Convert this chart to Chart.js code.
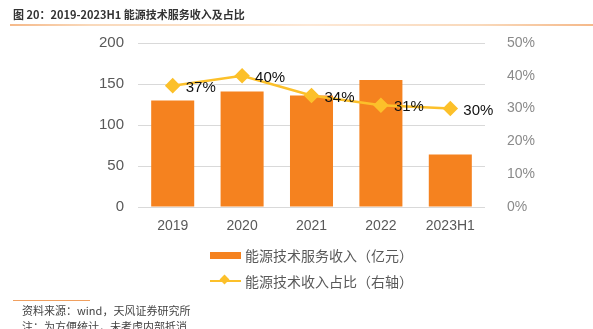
<!DOCTYPE html>
<html>
<head>
<meta charset="utf-8">
<script src="https://cdn.jsdelivr.net/npm/chart.js@4/dist/chart.umd.min.js"></script>
<style>
  body { margin: 0; background: #fff; font-family: "Noto Sans CJK SC", "Liberation Sans", sans-serif; }
  #wrap { position: relative; width: 593px; height: 329px; overflow: hidden; }
  #title { position: absolute; left: 13px; top: 6px; font-size: 11px; font-weight: bold; color: #333; white-space: nowrap; }
  #titleLine { position: absolute; left: 10px; top: 24px; width: 583px; height: 2px;
    background: linear-gradient(to right, #f5b98a 0, #f9d9bb 80px, #fde8d6 300px, #f9d9bb 470px, #f5b98a 100%); }
  #legend { position: absolute; left: 210px; top: 242px; font-size: 14px; color: #595959; }
  .item { display: flex; align-items: center; height: 26px; white-space: nowrap; }
  .sw { position: relative; width: 31px; height: 26px; margin-right: 4px; }
  .sw.bar span { position: absolute; left: 0; top: 10px; width: 31px; height: 7px; }
  .sw.line span.l { position: absolute; left: 0; top: 12px; width: 31px; height: 2px; }
  .sw.line span.d { position: absolute; left: 11px; top: 8px; width: 7px; height: 7px; transform: rotate(45deg); }
  #srcLine { position: absolute; left: 13px; top: 300px; width: 77px; height: 1px; background: #f0a060; }
  #src { position: absolute; left: 22px; top: 302px; font-size: 11px; color: #444; line-height: 16px; white-space: nowrap; }
</style>
</head>
<body>
<div id="wrap">
  <canvas id="chart" width="593" height="329"></canvas>
  <div id="title">图 20：2019-2023H1 能源技术服务收入及占比</div>
  <div id="titleLine"></div>
  <div id="legend"></div>
  <div id="srcLine"></div>
  <div id="src">资料来源：wind，天风证券研究所<br>注：为方便统计，未考虑内部抵消</div>
</div>
<script>
const categories = ["2019", "2020", "2021", "2022", "2023H1"];
const revenue = [130, 141, 136, 155, 64];
const share = [37, 40, 34, 31, 30];
const leftTicks = [0, 50, 100, 150, 200];
const rightTicks = [0, 10, 20, 30, 40, 50];

const barColor = "#F5821F";
const lineColor = "#FCC02A";
const seriesNames = ["能源技术服务收入（亿元）", "能源技术收入占比（右轴）"];

// legend in html
const legend = document.getElementById("legend");
legend.innerHTML =
  `<div class="item"><div class="sw bar"><span style="background:${barColor}"></span></div>${seriesNames[0]}</div>` +
  `<div class="item"><div class="sw line"><span class="l" style="background:${lineColor}"></span><span class="d" style="background:${lineColor}"></span></div>${seriesNames[1]}</div>`;

// percentage labels next to the line points
const pctLabels = {
  id: "pctLabels",
  afterDatasetsDraw(chart) {
    const ctx = chart.ctx;
    const meta = chart.getDatasetMeta(0);
    ctx.save();
    ctx.font = "15px 'Liberation Sans', Arial, sans-serif";
    ctx.fillStyle = "#111";
    ctx.textAlign = "left";
    ctx.textBaseline = "middle";
    meta.data.forEach((pt, i) => {
      ctx.fillText(share[i] + "%", pt.x + 13, pt.y + 2);
    });
    ctx.restore();
  }
};

new Chart(document.getElementById("chart"), {
  data: {
    labels: categories,
    datasets: [
      {
        type: "line",
        label: seriesNames[1],
        data: share,
        yAxisID: "y1",
        borderColor: lineColor,
        backgroundColor: lineColor,
        borderWidth: 2.5,
        pointStyle: "rectRot",
        pointRadius: 6,
        pointHoverRadius: 6,
        tension: 0,
        order: 0
      },
      {
        type: "bar",
        label: seriesNames[0],
        data: revenue,
        yAxisID: "y",
        backgroundColor: barColor,
        barPercentage: 0.62,
        categoryPercentage: 1,
        order: 1
      }
    ]
  },
  options: {
    responsive: false,
    animation: false,
    layout: { padding: { top: 43, bottom: 90, left: 0, right: 0 } },
    plugins: { legend: { display: false }, tooltip: { enabled: false } },
    scales: {
      x: {
        grid: { display: false },
        border: { display: false },
        ticks: { color: "#595959", font: { size: 14, family: "'Liberation Sans', Arial, sans-serif" }, padding: 3 },
        afterFit(s) { s.height = 32; }
      },
      y: {
        position: "left",
        min: 0, max: 200,
        afterBuildTicks(s) { s.ticks = leftTicks.map(v => ({ value: v })); },
        grid: { color: "#d9d9d9", lineWidth: 1, drawTicks: false },
        border: { display: false },
        ticks: { color: "#595959", font: { size: 15, family: "'Liberation Sans', Arial, sans-serif" }, padding: 14 },
        afterFit(s) { s.width = 138; }
      },
      y1: {
        position: "right",
        min: 0, max: 50,
        afterBuildTicks(s) { s.ticks = rightTicks.map(v => ({ value: v })); },
        grid: { display: false },
        border: { display: false },
        ticks: { color: "#8a8a8a", font: { size: 14, family: "'Liberation Sans', Arial, sans-serif" }, padding: 14, callback: v => v + "%" },
        afterFit(s) { s.width = 108; }
      }
    }
  },
  plugins: [pctLabels]
});
</script>
</body>
</html>
